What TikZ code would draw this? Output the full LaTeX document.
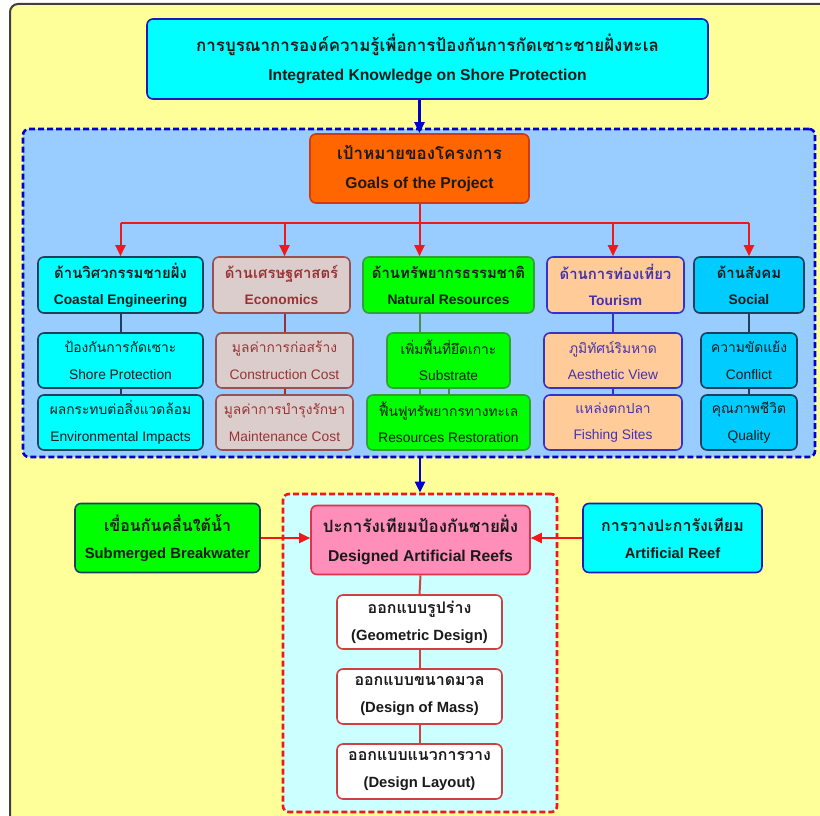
\documentclass[tikz,border=0pt]{standalone}
\usepackage{fontspec}
\setmainfont{Liberation Sans}
\newfontfamily\thai[Script=Thai,Scale=1.08]{Loma}
\newfontfamily\thaiR[Script=Thai]{Loma}
\usetikzlibrary{arrows.meta}
\definecolor{bgyellow}{HTML}{FFFF99}
\definecolor{framegray}{HTML}{404040}
\definecolor{cyanF}{HTML}{00FFFF}
\definecolor{titleB}{HTML}{1A1AB8}
\definecolor{lblue}{HTML}{99CCFF}
\definecolor{dblue}{HTML}{0000CC}
\definecolor{orangeF}{HTML}{FF6600}
\definecolor{orangeB}{HTML}{D03A10}
\definecolor{redL}{HTML}{F01818}
\definecolor{navyB}{HTML}{1F3F5F}
\definecolor{ecoF}{HTML}{DCCDCD}
\definecolor{ecoB}{HTML}{995050}
\definecolor{ecoT}{HTML}{993333}
\definecolor{greenF}{HTML}{00FF00}
\definecolor{greenB}{HTML}{33A033}
\definecolor{greenL}{HTML}{4C8C4C}
\definecolor{peachF}{HTML}{FFCC99}
\definecolor{purpB}{HTML}{3333CC}
\definecolor{purpT}{HTML}{4433AA}
\definecolor{skyF}{HTML}{00CCFF}
\definecolor{lcyan}{HTML}{CCFFFF}
\definecolor{pinkF}{HTML}{FF8FB8}
\definecolor{pinkB}{HTML}{E0304A}
\definecolor{desB}{HTML}{D04040}
\definecolor{txt}{HTML}{1A1A1A}
\newcommand{\TE}[2]{{\thai #1}\\#2}
\newcommand{\TS}[2]{{\thaiR #1}\\#2}
\tikzset{
  box/.style={rounded corners=6pt, line width=1.6pt, align=center, inner sep=0pt, text=txt},
  fbig/.style={font=\fontsize{15.7}{28.5}\selectfont\bfseries},
  fmid/.style={font=\fontsize{14.8}{27}\selectfont\bfseries},
  fcat/.style={font=\fontsize{13.8}{26}\selectfont\bfseries},
  fsub/.style={font=\fontsize{13.8}{26.5}\selectfont},
  conn/.style={line width=2pt},
  tip/.style={-{Triangle[length=11pt,width=10pt]}},
}
\begin{document}
\begin{tikzpicture}[x=1pt,y=-1pt]
\useasboundingbox (0,0) rectangle (820,816);
\begin{scope}
\clip (0,0) rectangle (820,816);
\fill[white] (0,0) rectangle (820,816);
\draw[fill=bgyellow, draw=framegray, line width=2pt, rounded corners=8pt] (10,4) rectangle (860,860);
\end{scope}

% title
\node[box, fbig, fill=cyanF, draw=titleB, minimum width=561pt, minimum height=80pt] (title) at (427.5,59)
  {\TE{การบูรณาการองค์ความรู้เพื่อการป้องกันการกัดเซาะชายฝั่งทะเล}{Integrated Knowledge on Shore Protection}};

% blue dashed frame
\node[rounded corners=6pt, fill=lblue, draw=dblue, line width=2.6pt, dash pattern=on 6pt off 3pt,
  minimum width=792pt, minimum height=328pt, inner sep=0pt] (fb) at (419,293) {};

% goals
\node[box, fbig, fill=orangeF, draw=orangeB, minimum width=219pt, minimum height=69pt] (goals) at (419.5,168.5)
  {\TE{เป้าหมายของโครงการ}{Goals of the Project}};

% categories
\node[box, fcat, fill=cyanF, draw=navyB, minimum width=165pt, minimum height=56pt] (ce) at (120.5,285)
  {\TE{ด้านวิศวกรรมชายฝั่ง}{Coastal Engineering}};
\node[box, fcat, fill=ecoF, draw=ecoB, text=ecoT, minimum width=137pt, minimum height=56pt] (ec) at (281.5,285)
  {\TE{ด้านเศรษฐศาสตร์}{Economics}};
\node[box, fcat, fill=greenF, draw=greenB, minimum width=171pt, minimum height=56pt] (nr) at (448.5,285)
  {\TE{ด้านทรัพยากรธรรมชาติ}{Natural Resources}};
\node[box, fcat, fill=peachF, draw=purpB, text=purpT, minimum width=137pt, minimum height=56pt] (to) at (615.5,285)
  {\TE{ด้านการท่องเที่ยว}{Tourism}};
\node[box, fcat, fill=skyF, draw=navyB, minimum width=110pt, minimum height=56pt] (so) at (749,285)
  {\TE{ด้านสังคม}{Social}};

% sub boxes
\node[box, fsub, fill=cyanF, draw=navyB, minimum width=165pt, minimum height=55pt] (ce1) at (120.5,360.5)
  {\TS{ป้องกันการกัดเซาะ}{Shore Protection}};
\node[box, fsub, fill=cyanF, draw=navyB, minimum width=165pt, minimum height=55pt] (ce2) at (120.5,422.5)
  {\TS{ผลกระทบต่อสิ่งแวดล้อม}{Environmental Impacts}};
\node[box, fsub, fill=ecoF, draw=ecoB, text=ecoT, minimum width=137pt, minimum height=55pt] (ec1) at (284.5,360.5)
  {\TS{มูลค่าการก่อสร้าง}{Construction Cost}};
\node[box, fsub, fill=ecoF, draw=ecoB, text=ecoT, minimum width=137pt, minimum height=55pt] (ec2) at (284.5,422.5)
  {\TS{มูลค่าการบำรุงรักษา}{Maintenance Cost}};
\node[box, fsub, fill=greenF, draw=greenB, minimum width=123pt, minimum height=55pt] (nr1) at (448.5,360.5)
  {\TS{เพิ่มพื้นที่ยึดเกาะ}{Substrate}};
\node[box, fsub, fill=greenF, draw=greenB, minimum width=163pt, minimum height=55pt] (nr2) at (448.5,422.5)
  {\TS{ฟื้นฟูทรัพยากรทางทะเล}{Resources Restoration}};
\node[box, fsub, fill=peachF, draw=purpB, text=purpT, minimum width=138pt, minimum height=55pt] (to1) at (613,360.5)
  {\TS{ภูมิทัศน์ริมหาด}{Aesthetic View}};
\node[box, fsub, fill=peachF, draw=purpB, text=purpT, minimum width=138pt, minimum height=55pt] (to2) at (613,422.5)
  {\TS{แหล่งตกปลา}{Fishing Sites}};
\node[box, fsub, fill=skyF, draw=navyB, minimum width=96pt, minimum height=55pt] (so1) at (749,360.5)
  {\TS{ความขัดแย้ง}{Conflict}};
\node[box, fsub, fill=skyF, draw=navyB, minimum width=96pt, minimum height=55pt] (so2) at (749,422.5)
  {\TS{คุณภาพชีวิต}{Quality}};

% red dashed frame
\node[rounded corners=6pt, fill=lcyan, draw=redL, line width=2.6pt, dash pattern=on 6pt off 3pt,
  minimum width=274pt, minimum height=318pt, inner sep=0pt] (rf) at (420,653) {};

\node[box, fbig, fill=pinkF, draw=pinkB, minimum width=219pt, minimum height=69pt] (dar) at (420.5,540)
  {\TE{ปะการังเทียมป้องกันชายฝั่ง}{Designed Artificial Reefs}};
\node[box, fmid, fill=greenF, draw=navyB, minimum width=185pt, minimum height=69pt] (sb) at (167.5,538)
  {\TE{เขื่อนกันคลื่นใต้น้ำ}{Submerged Breakwater}};
\node[box, fmid, fill=cyanF, draw=titleB, minimum width=179pt, minimum height=69pt] (ar) at (672.5,538)
  {\TE{การวางปะการังเทียม}{Artificial Reef}};

\node[box, fmid, fill=white, draw=desB, minimum width=165pt, minimum height=54pt] (d1) at (419.5,622)
  {\TE{ออกแบบรูปร่าง}{(Geometric Design)}};
\node[box, fmid, fill=white, draw=desB, minimum width=165pt, minimum height=55pt] (d2) at (419.5,696.5)
  {\TE{ออกแบบขนาดมวล}{(Design of Mass)}};
\node[box, fmid, fill=white, draw=desB, minimum width=165pt, minimum height=55pt] (d3) at (419.5,771.5)
  {\TE{ออกแบบแนวการวาง}{(Design Layout)}};

% blue arrows
\draw[conn, dblue, line width=2.4pt, tip] (title.south -| goals) -- (goals.north);
\draw[conn, dblue, line width=2.4pt, tip] (fb.south -| rf) -- (rf.north);

% red distribution
\draw[conn, redL] (goals.south) -- ++(0,19) coordinate (hub);
\draw[conn, redL] (ce.north |- hub) -- (so.north |- hub);
\draw[conn, redL, tip] (ce.north |- hub) -- (ce.north);
\draw[conn, redL, tip] (ec1.north |- hub) -- (ec1.north |- ec.north);
\draw[conn, redL, tip] (hub) -- (hub |- nr.north);
\draw[conn, redL, tip] (to1.north |- hub) -- (to1.north |- to.north);
\draw[conn, redL, tip] (so.north |- hub) -- (so.north);

% column connectors
\draw[conn, navyB] (ce.south) -- (ce1.north);
\draw[conn, navyB] (ce1.south) -- (ce2.north);
\draw[conn, ecoT] (ec1.north |- ec.south) -- (ec1.north);
\draw[conn, ecoT] (ec1.south) -- (ec2.north);
\draw[conn, greenL] (hub |- nr.south) -- (hub |- nr1.north);
\draw[conn, greenL] (hub |- nr1.south) -- (hub |- nr2.north);
\draw[conn, greenL] (nr1.south) -- (nr2.north);
\draw[conn, purpB] (to1.north |- to.south) -- (to1.north);
\draw[conn, purpB] (to1.south) -- (to2.north);
\draw[conn, navyB] (so.south) -- (so1.north);
\draw[conn, navyB] (so1.south) -- (so2.north);

% bottom section
\draw[conn, redL, tip] (sb.east) -- (sb.east -| dar.west);
\draw[conn, redL, tip] (ar.west) -- (ar.west -| dar.east);
\draw[conn, desB] (dar.south) -- (d1.north);
\draw[conn, desB] (d1.south) -- (d2.north);
\draw[conn, desB] (d2.south) -- (d3.north);
\end{tikzpicture}
\end{document}
